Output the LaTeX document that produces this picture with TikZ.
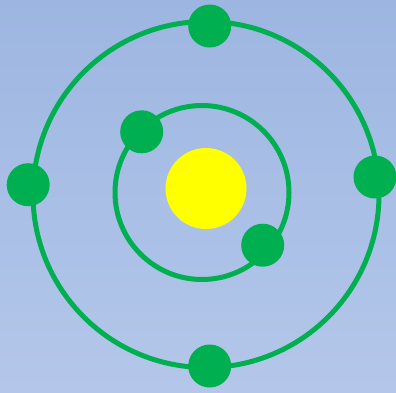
\documentclass[tikz,border=0pt]{standalone}
\definecolor{bgtop}{HTML}{9DB6E1}
\definecolor{bgbot}{HTML}{B4C7EA}
\definecolor{orbitgreen}{HTML}{00B050}
\definecolor{sunyellow}{HTML}{FFFF00}
\begin{document}
\begin{tikzpicture}[x=1pt,y=-1pt,
  orbit/.style={draw=orbitgreen,line width=5pt},
  planet/.style={circle,fill=orbitgreen,minimum size=43pt,inner sep=0pt},
  sun/.style={circle,fill=sunyellow,minimum size=81pt,inner sep=0pt}]
\shade[top color=bgtop,bottom color=bgbot] (0,0) rectangle (396,392);
\useasboundingbox (0,0) rectangle (396,392);
\coordinate (oc) at (206,194.5);
\coordinate (ic) at (202,192.5);
\draw[orbit] (oc) circle[radius=173];
\draw[orbit] (ic) circle[radius=87];
\node[sun] (s) at (206,188.5) {};
\node[planet] (p1) at (209.7,26) {};
\node[planet] (p2) at (28.2,184.7) {};
\node[planet] (p3) at (375,177) {};
\node[planet] (p4) at (209.7,366) {};
\node[planet] (p5) at (141.7,131.8) {};
\node[planet] (p6) at (262.7,245.2) {};
\end{tikzpicture}
\end{document}
